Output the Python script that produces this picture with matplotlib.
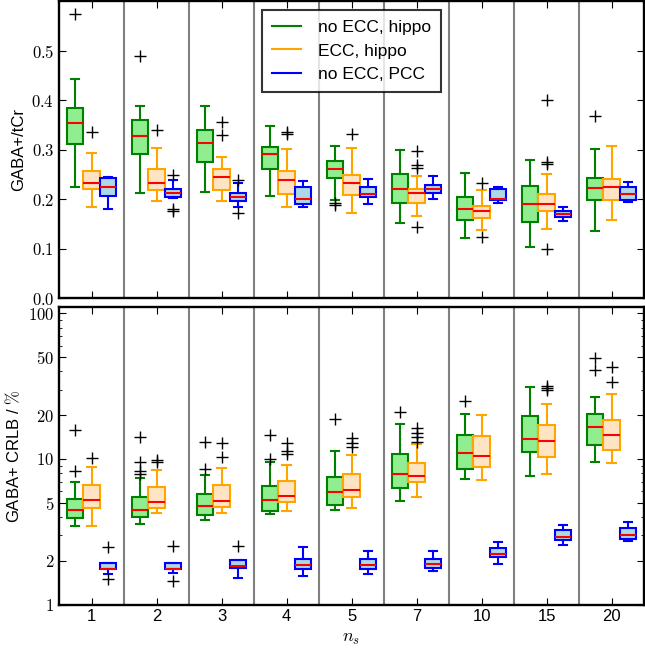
import numpy as np
import matplotlib
matplotlib.use("Agg")
import matplotlib.pyplot as plt
from matplotlib.ticker import LogLocator, NullFormatter

plt.rcParams['font.family'] = ['Liberation Sans', 'DejaVu Sans']
plt.rcParams['mathtext.fontset'] = 'cm'
plt.rcParams['font.size'] = 12

ns_labels = ["1", "2", "3", "4", "5", "7", "10", "15", "20"]
series_names = ["no ECC, hippo", "ECC, hippo", "no ECC, PCC"]

# box stats per category: (whisker low, q1, median, q3, whisker high)
ratio_noecc_hippo = [(0.224, 0.312, 0.355, 0.384, 0.443), (0.213, 0.291, 0.328, 0.360, 0.388),
                     (0.214, 0.276, 0.313, 0.341, 0.389), (0.207, 0.261, 0.291, 0.306, 0.349),
                     (0.199, 0.244, 0.262, 0.278, 0.308), (0.153, 0.192, 0.221, 0.251, 0.299),
                     (0.122, 0.159, 0.180, 0.205, 0.253), (0.104, 0.154, 0.191, 0.227, 0.279),
                     (0.137, 0.199, 0.222, 0.244, 0.301)]
ratio_noecc_hippo_fl = [[0.575], [0.489], [], [], [0.193, 0.188], [], [], [], [0.369]]

ratio_ecc_hippo = [(0.184, 0.220, 0.234, 0.258, 0.293), (0.197, 0.218, 0.233, 0.262, 0.304),
                   (0.197, 0.218, 0.246, 0.261, 0.286), (0.184, 0.210, 0.240, 0.257, 0.302),
                   (0.172, 0.208, 0.234, 0.250, 0.303), (0.167, 0.193, 0.213, 0.221, 0.248),
                   (0.138, 0.162, 0.177, 0.186, 0.219), (0.141, 0.176, 0.191, 0.211, 0.252),
                   (0.158, 0.199, 0.225, 0.242, 0.308)]
ratio_ecc_hippo_fl = [[0.335], [0.340], [0.357, 0.329], [0.336, 0.332], [0.332],
                      [0.297, 0.269, 0.264, 0.145], [0.233, 0.123], [0.400, 0.275, 0.271, 0.099], []]

ratio_noecc_pcc = [(0.181, 0.207, 0.225, 0.244, 0.246), (0.203, 0.205, 0.212, 0.221, 0.239),
                   (0.185, 0.196, 0.205, 0.213, 0.234), (0.185, 0.190, 0.201, 0.225, 0.238),
                   (0.190, 0.205, 0.210, 0.225, 0.241), (0.201, 0.212, 0.220, 0.229, 0.248),
                   (0.192, 0.199, 0.201, 0.220, 0.224), (0.157, 0.165, 0.170, 0.176, 0.184),
                   (0.194, 0.198, 0.210, 0.224, 0.236)]
ratio_noecc_pcc_fl = [[], [0.249, 0.180, 0.176], [0.239, 0.172], [], [], [], [], [], []]

crlb_noecc_hippo = [(3.45, 3.90, 4.43, 5.27, 6.97), (3.60, 4.01, 4.43, 5.50, 7.35),
                    (3.78, 4.09, 4.72, 5.79, 7.78), (4.16, 4.38, 5.21, 6.54, 9.61),
                    (4.45, 4.82, 5.89, 7.54, 11.4), (5.13, 6.34, 7.91, 10.8, 17.3),
                    (7.23, 8.51, 11.0, 14.7, 20.5), (7.62, 11.1, 13.8, 19.7, 31.0),
                    (9.46, 12.4, 16.7, 20.4, 26.6)]
crlb_noecc_hippo_fl = [[15.8, 8.25], [14.2, 9.46, 8.25, 7.94], [13.1, 8.56], [14.6, 9.93],
                       [18.7], [21.0], [25.1], [], [49.1, 40.6]]

crlb_ecc_hippo = [(3.45, 4.59, 5.21, 6.58, 8.74), (4.26, 4.64, 5.10, 6.44, 8.38),
                  (4.26, 4.69, 5.16, 6.64, 8.70), (4.38, 5.08, 5.53, 7.04, 9.12),
                  (4.62, 5.50, 6.08, 7.90, 10.6), (5.50, 6.93, 7.66, 9.41, 12.6),
                  (7.19, 8.74, 10.5, 14.4, 19.9), (7.91, 10.3, 13.2, 17.0, 23.7),
                  (9.36, 11.5, 14.7, 18.6, 28.0)]
crlb_ecc_hippo_fl = [[10.1], [9.8, 9.5], [12.9, 10.4], [12.9, 11.4, 10.8], [14.0, 12.9, 12.1],
                     [16.2, 15.1, 14.2, 13.1], [], [31.7, 30.8, 29.7], [42.8, 33.7]]

crlb_noecc_pcc = [(1.62, 1.75, 1.76, 1.93, 1.93), (1.65, 1.75, 1.76, 1.93, 1.93),
                  (1.52, 1.79, 1.83, 2.02, 2.02), (1.57, 1.75, 1.88, 2.05, 2.47),
                  (1.63, 1.75, 1.87, 2.04, 2.34), (1.69, 1.79, 1.89, 2.07, 2.34),
                  (1.91, 2.12, 2.24, 2.45, 2.67), (2.56, 2.77, 2.89, 3.24, 3.51),
                  (2.74, 2.84, 3.01, 3.35, 3.68)]
crlb_noecc_pcc_fl = [[2.47, 1.49], [2.54, 1.45], [2.54], [], [], [], [], [], []]

ratio_ticks = [0.0, 0.1, 0.2, 0.3, 0.4, 0.5]
crlb_ticks = [1, 2, 5, 10, 20, 50, 100]

edge_cols = ["green", "orange", "blue"]
face_cols = ["lightgreen", "bisque", "lightblue"]
offsets = [-0.25, 0.0, 0.25]


def make_stats(boxes, fliers):
    out = []
    for (lo, q1, med, q3, hi), fl in zip(boxes, fliers):
        out.append(dict(whislo=lo, q1=q1, med=med, q3=q3, whishi=hi, fliers=fl))
    return out


def draw_boxes(ax, groups):
    pos = np.arange(1, len(ns_labels) + 1)
    for (boxes, fliers), ec, fc, off in zip(groups, edge_cols, face_cols, offsets):
        ax.bxp(make_stats(boxes, fliers), positions=pos + off, widths=0.25,
               patch_artist=True, manage_ticks=False,
               boxprops=dict(facecolor=fc, edgecolor=ec, linewidth=1.5),
               whiskerprops=dict(color=ec, linewidth=1.5, linestyle='-'),
               capprops=dict(color=ec, linewidth=1.5),
               medianprops=dict(color='red', linewidth=1.5),
               flierprops=dict(marker='+', markeredgecolor='k', markersize=9,
                               markeredgewidth=1, linestyle='none'))
    for x in pos[:-1] + 0.5:
        ax.axvline(x, color='grey', linewidth=1.5, zorder=0)
    ax.set_xlim(0.5, len(ns_labels) + 0.5)
    ax.set_xticks(pos)
    ax.tick_params(direction='in', top=True, right=True, which='both', labelsize=12)
    ax.tick_params(which='major', length=5)
    ax.tick_params(which='minor', length=2.5)
    for sp in ax.spines.values():
        sp.set_linewidth(1.7)


fig = plt.figure(figsize=(6.45, 6.5), dpi=100)
ax1 = fig.add_axes([0.0915, 0.541, 0.907, 0.457])
ax2 = fig.add_axes([0.0915, 0.070, 0.907, 0.457])

draw_boxes(ax1, [(ratio_noecc_hippo, ratio_noecc_hippo_fl),
                 (ratio_ecc_hippo, ratio_ecc_hippo_fl),
                 (ratio_noecc_pcc, ratio_noecc_pcc_fl)])
ax1.set_ylim(0, 0.6)
ax1.set_yticks(ratio_ticks)
ax1.set_yticklabels(["$%.1f$" % t for t in ratio_ticks])
ax1.set_xticklabels([])
ax1.set_ylabel("GABA+/tCr", fontsize=12)

for ec, name in zip(edge_cols, series_names):
    ax1.plot([], [], color=ec, linewidth=1.5, label=name)
leg = ax1.legend(loc='upper center', fontsize=12.5, fancybox=False, handlelength=1.7,
                 borderpad=0.55, labelspacing=0.5, handletextpad=1.0)
leg.get_frame().set_edgecolor('black')
leg.get_frame().set_linewidth(1.5)

draw_boxes(ax2, [(crlb_noecc_hippo, crlb_noecc_hippo_fl),
                 (crlb_ecc_hippo, crlb_ecc_hippo_fl),
                 (crlb_noecc_pcc, crlb_noecc_pcc_fl)])
ax2.set_yscale('log')
ax2.set_ylim(1, 110)
ax2.set_yticks(crlb_ticks)
ax2.set_yticklabels(["$%d$" % t for t in crlb_ticks])
ax2.yaxis.set_minor_locator(LogLocator(base=10, subs=range(2, 10)))
ax2.yaxis.set_minor_formatter(NullFormatter())
ax2.set_xticklabels(ns_labels)
ax2.set_ylabel("GABA+ CRLB / $\\%$", fontsize=12)
ax2.set_xlabel("$n_s$", fontsize=13)

fig.savefig("out.png", dpi=100)
